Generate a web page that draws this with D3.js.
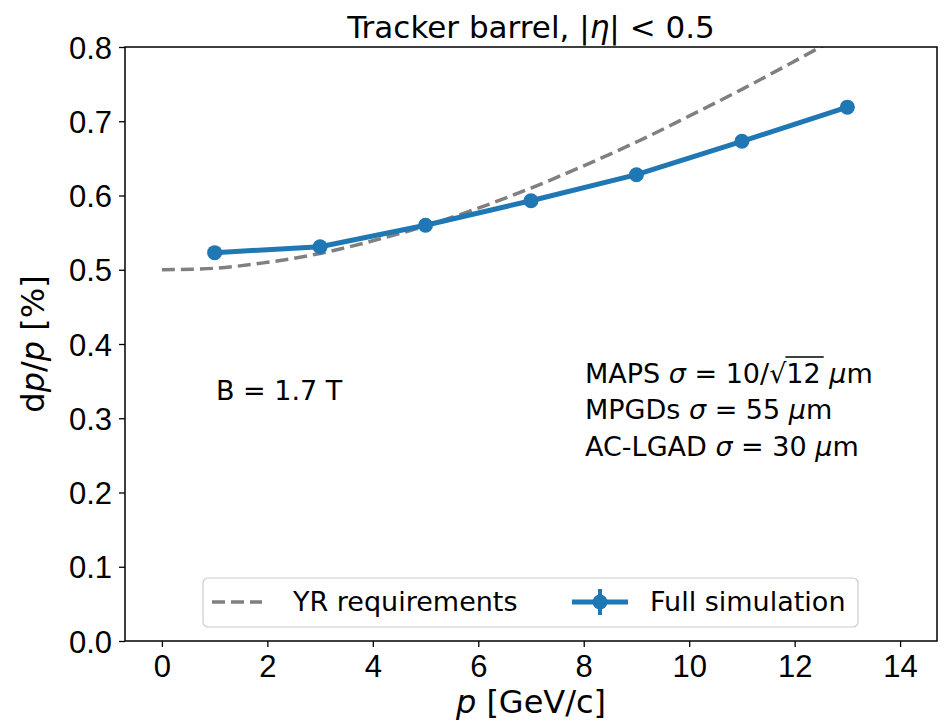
<!DOCTYPE html>
<html>
<head>
<meta charset="utf-8">
<script src="https://cdn.jsdelivr.net/npm/d3@7"></script>
<style>
  body { margin: 0; background: #fff; }
  svg { font-family: "DejaVu Sans", sans-serif; }
  .tick text { font-size: 31px; fill: #000; }
  .ann { font-size: 27px; fill: #000; }
</style>
</head>
<body>
<svg width="949" height="724"></svg>
<script>
(function (d3) {
  'use strict';

  // YR requirement curve
  const yrP = [0, 1, 2, 3, 4, 5, 6, 7, 8, 9, 10, 11, 12, 13];
  const yrRes = [0.500, 0.502, 0.510, 0.522, 0.539, 0.559, 0.583, 0.610, 0.640, 0.672, 0.707, 0.743, 0.781, 0.820];

  // full simulation points
  const simP = [1, 3, 5, 7, 9, 11, 13];
  const simRes = [0.523, 0.531, 0.560, 0.593, 0.628, 0.673, 0.719];

  const xTicks = [0, 2, 4, 6, 8, 10, 12, 14];
  const yTicks = [0.0, 0.1, 0.2, 0.3, 0.4, 0.5, 0.6, 0.7, 0.8];

  const svg = d3.select('svg');
  const margin = { top: 47, right: 12, bottom: 83, left: 125 };
  const width = +svg.attr('width');
  const height = +svg.attr('height');
  const innerWidth = width - margin.left - margin.right;
  const innerHeight = height - margin.top - margin.bottom;

  const xScale = d3.scaleLinear().domain([-0.7, 14.7]).range([0, innerWidth]);
  const yScale = d3.scaleLinear().domain([0, 0.8]).range([innerHeight, 0]);

  svg.append('defs').append('clipPath').attr('id', 'clip')
    .append('rect').attr('width', innerWidth).attr('height', innerHeight);

  const g = svg.append('g')
    .attr('transform', `translate(${margin.left},${margin.top})`);

  const xAxisG = g.append('g')
    .attr('transform', `translate(0,${innerHeight})`)
    .call(d3.axisBottom(xScale).tickValues(xTicks).tickSize(6).tickPadding(8).tickFormat(d3.format('d')));
  const yAxisG = g.append('g')
    .call(d3.axisLeft(yScale).tickValues(yTicks).tickSize(6).tickPadding(7).tickFormat(d3.format('.1f')));
  [xAxisG, yAxisG].forEach(a => {
    a.select('.domain').remove();
    a.selectAll('.tick line').attr('stroke', '#000').attr('stroke-width', 1.3);
  });
  yAxisG.selectAll('.tick text').attr('dy', '0.36em');

  const plot = g.append('g').attr('clip-path', 'url(#clip)');

  const yrData = yrP.map((p, i) => ({ p, r: yrRes[i] }));
  const simData = simP.map((p, i) => ({ p, r: simRes[i] }));

  plot.append('path')
    .datum(yrData)
    .attr('fill', 'none')
    .attr('stroke', '#808080')
    .attr('stroke-width', 3.5)
    .attr('stroke-dasharray', '13,6')
    .attr('d', d3.line().x(d => xScale(d.p)).y(d => yScale(d.r)).curve(d3.curveCatmullRom));

  plot.append('path')
    .datum(simData)
    .attr('fill', 'none')
    .attr('stroke', '#1f77b4')
    .attr('stroke-width', 5)
    .attr('d', d3.line().x(d => xScale(d.p)).y(d => yScale(d.r)));

  plot.selectAll('circle.sim').data(simData)
    .enter().append('circle')
      .attr('class', 'sim')
      .attr('cx', d => xScale(d.p))
      .attr('cy', d => yScale(d.r))
      .attr('r', 7.5)
      .attr('fill', '#1f77b4');

  // frame
  g.append('rect')
    .attr('width', innerWidth).attr('height', innerHeight)
    .attr('fill', 'none').attr('stroke', '#000').attr('stroke-width', 1.5);

  // title
  const title = svg.append('text')
    .attr('x', margin.left + innerWidth / 2).attr('y', 38)
    .attr('text-anchor', 'middle').attr('font-size', 31);
  title.append('tspan').text('Tracker barrel, |');
  title.append('tspan').attr('font-style', 'italic').text('η');
  title.append('tspan').text('| < 0.5');

  // axis labels
  const xl = svg.append('text')
    .attr('x', margin.left + innerWidth / 2).attr('y', 713)
    .attr('text-anchor', 'middle').attr('font-size', 32);
  xl.append('tspan').attr('font-style', 'italic').text('p');
  xl.append('tspan').text(' [GeV/c]');

  const yl = svg.append('text')
    .attr('transform', `translate(44,${margin.top + innerHeight / 2}) rotate(-90)`)
    .attr('text-anchor', 'middle').attr('font-size', 32);
  yl.append('tspan').text('d');
  yl.append('tspan').attr('font-style', 'italic').text('p');
  yl.append('tspan').text('/');
  yl.append('tspan').attr('font-style', 'italic').text('p');
  yl.append('tspan').text(' [%]');

  // annotations
  svg.append('text').attr('class', 'ann').attr('x', 216).attr('y', 400).text('B = 1.7 T');

  const t1 = svg.append('text').attr('class', 'ann').attr('x', 585).attr('y', 383);
  t1.append('tspan').text('MAPS ');
  t1.append('tspan').attr('font-style', 'italic').text('σ');
  t1.append('tspan').text(' = 10/√');
  const sq = t1.append('tspan').text('12');
  t1.append('tspan').text('  ');
  t1.append('tspan').attr('font-style', 'italic').text('μ');
  t1.append('tspan').text('m');
  // radical overline
  const node = sq.node();
  if (node.getExtentOfChar) {
    const first = node.getExtentOfChar(0);
    const last = node.getExtentOfChar(1);
    svg.append('line')
      .attr('x1', first.x - 1).attr('x2', last.x + last.width + 3)
      .attr('y1', 357).attr('y2', 357)
      .attr('stroke', '#000').attr('stroke-width', 1.4);
  }

  const t2 = svg.append('text').attr('class', 'ann').attr('x', 585).attr('y', 419);
  t2.append('tspan').text('MPGDs ');
  t2.append('tspan').attr('font-style', 'italic').text('σ');
  t2.append('tspan').text(' = 55 ');
  t2.append('tspan').attr('font-style', 'italic').text('μ');
  t2.append('tspan').text('m');

  const t3 = svg.append('text').attr('class', 'ann').attr('x', 585).attr('y', 456);
  t3.append('tspan').text('AC-LGAD ');
  t3.append('tspan').attr('font-style', 'italic').text('σ');
  t3.append('tspan').text(' = 30 ');
  t3.append('tspan').attr('font-style', 'italic').text('μ');
  t3.append('tspan').text('m');

  // legend
  const lg = svg.append('g').attr('transform', 'translate(203,578)');
  lg.append('rect')
    .attr('width', 655).attr('height', 49).attr('rx', 5)
    .attr('fill', '#fff').attr('fill-opacity', 0.8)
    .attr('stroke', '#cccccc').attr('stroke-width', 1.2);
  lg.append('line')
    .attr('x1', 9).attr('x2', 59).attr('y1', 24).attr('y2', 24)
    .attr('stroke', '#808080').attr('stroke-width', 3.5).attr('stroke-dasharray', '13,6');
  lg.append('text').attr('class', 'ann').attr('x', 90).attr('y', 33).text('YR requirements');
  lg.append('line')
    .attr('x1', 369).attr('x2', 425).attr('y1', 24).attr('y2', 24)
    .attr('stroke', '#1f77b4').attr('stroke-width', 5);
  lg.append('line')
    .attr('x1', 397).attr('x2', 397).attr('y1', 11).attr('y2', 37)
    .attr('stroke', '#1f77b4').attr('stroke-width', 4);
  lg.append('circle').attr('cx', 397).attr('cy', 24).attr('r', 7.5).attr('fill', '#1f77b4');
  lg.append('text').attr('class', 'ann').attr('x', 447).attr('y', 33).text('Full simulation');

}(d3));
</script>
</body>
</html>
